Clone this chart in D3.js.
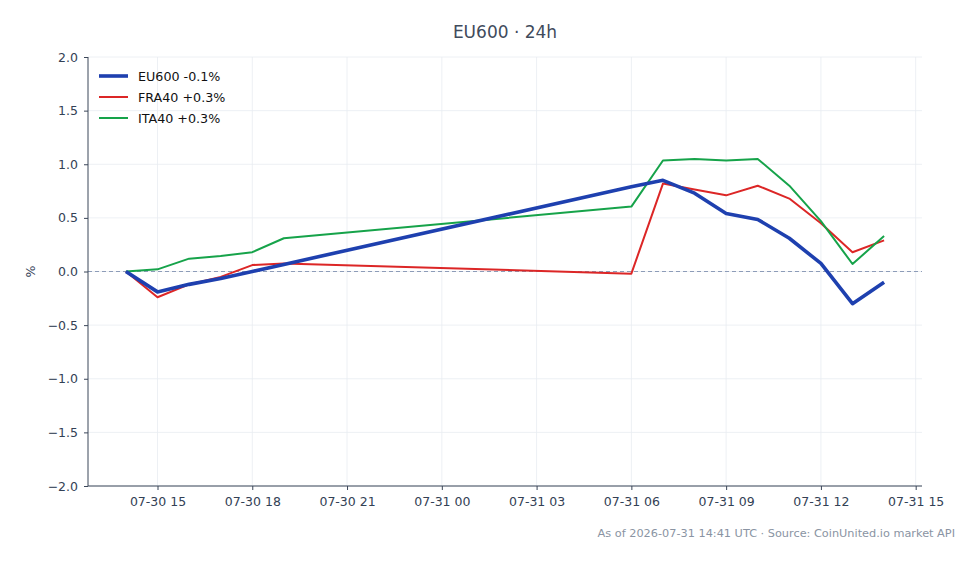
<!DOCTYPE html>
<html>
<head>
<meta charset="utf-8">
<script src="https://cdn.jsdelivr.net/npm/d3@7"></script>
<style>
  body { margin: 0; background: #fff; }
  svg { font-family: "DejaVu Sans", sans-serif; }
</style>
</head>
<body>
<svg width="979" height="564"></svg>
<script>
const times = [
  "2026-07-30T14:00Z", "2026-07-30T15:00Z", "2026-07-30T16:00Z", "2026-07-30T17:00Z",
  "2026-07-30T18:00Z", "2026-07-30T19:00Z", "2026-07-31T06:00Z", "2026-07-31T07:00Z",
  "2026-07-31T08:00Z", "2026-07-31T09:00Z", "2026-07-31T10:00Z", "2026-07-31T11:00Z",
  "2026-07-31T12:00Z", "2026-07-31T13:00Z", "2026-07-31T14:00Z",
];
const eu600 = [0.0, -0.19, -0.12, -0.065, 0.0, 0.066, 0.79, 0.85, 0.73, 0.54, 0.485, 0.31, 0.075, -0.30, -0.10];
const fra40 = [0.0, -0.24, -0.12, -0.05, 0.06, 0.075, -0.02, 0.82, 0.765, 0.71, 0.80, 0.68, 0.45, 0.18, 0.29];
const ita40 = [0.0, 0.02, 0.12, 0.145, 0.18, 0.31, 0.605, 1.035, 1.05, 1.035, 1.05, 0.80, 0.47, 0.07, 0.33];
const seriesNames = ["EU600 -0.1%", "FRA40 +0.3%", "ITA40 +0.3%"];
const yTicks = [-2.0, -1.5, -1.0, -0.5, 0.0, 0.5, 1.0, 1.5, 2.0];

const svg = d3.select("svg");
const margin = { top: 57, right: 57, bottom: 78, left: 88 };
const width = +svg.attr("width");
const height = +svg.attr("height");
const innerWidth = width - margin.left - margin.right;
const innerHeight = height - margin.top - margin.bottom;

const dates = times.map((t) => new Date(t));
const span = dates[dates.length - 1] - dates[0];
const pad = span * 0.05;

const xScale = d3
  .scaleUtc()
  .domain([new Date(+dates[0] - pad), new Date(+dates[dates.length - 1] + pad)])
  .range([0, innerWidth]);
const yScale = d3.scaleLinear().domain([-2, 2]).range([innerHeight, 0]);

const series = [
  { name: seriesNames[0], values: eu600, color: "#1e40af", width: 3.6 },
  { name: seriesNames[1], values: fra40, color: "#dc2626", width: 2 },
  { name: seriesNames[2], values: ita40, color: "#16a34a", width: 2 },
];

const g = svg
  .append("g")
  .attr("transform", `translate(${margin.left},${margin.top})`);

const xTicks = d3.utcHour.every(3).range(
  new Date("2026-07-30T15:00Z"),
  new Date("2026-07-31T15:01Z")
);

// grid
g.append("g")
  .selectAll("line")
  .data(xTicks)
  .join("line")
  .attr("x1", (d) => xScale(d))
  .attr("x2", (d) => xScale(d))
  .attr("y1", 0)
  .attr("y2", innerHeight)
  .attr("stroke", "#e8ecf1")
  .attr("stroke-width", 0.8);
g.append("g")
  .selectAll("line")
  .data(yTicks)
  .join("line")
  .attr("x1", 0)
  .attr("x2", innerWidth)
  .attr("y1", (d) => yScale(d))
  .attr("y2", (d) => yScale(d))
  .attr("stroke", "#e8ecf1")
  .attr("stroke-width", 0.8);

// zero line
g.append("line")
  .attr("x1", 0)
  .attr("x2", innerWidth)
  .attr("y1", yScale(0))
  .attr("y2", yScale(0))
  .attr("stroke", "#8d9cb8")
  .attr("stroke-width", 1)
  .attr("stroke-dasharray", "4,3");

const line = d3
  .line()
  .x((d, i) => xScale(dates[i]))
  .y((d) => yScale(d));

// blue drawn last so it sits on top
[series[1], series[2], series[0]].forEach((s) => {
  g.append("path")
    .attr("d", line(s.values))
    .attr("fill", "none")
    .attr("stroke", s.color)
    .attr("stroke-width", s.width)
    .attr("stroke-linejoin", "round");
});

// axes
const yAxis = d3
  .axisLeft(yScale)
  .tickValues(yTicks)
  .tickFormat(d3.format(".1f"))
  .tickSize(4)
  .tickPadding(6);
const xAxis = d3
  .axisBottom(xScale)
  .tickValues(xTicks)
  .tickFormat(d3.utcFormat("%m-%d %H"))
  .tickSize(4)
  .tickPadding(7);

const yG = g.append("g").call(yAxis);
const xG = g.append("g").attr("transform", `translate(0,${innerHeight})`).call(xAxis);
[yG, xG].forEach((ax) => {
  ax.select(".domain").attr("stroke", "#3b4658").attr("stroke-width", 1);
  ax.selectAll(".tick line").attr("stroke", "#3b4658");
  ax.selectAll(".tick text")
    .attr("fill", "#334155")
    .attr("font-size", 12.5)
    .attr("font-family", "DejaVu Sans, sans-serif");
});
yG.select(".domain").attr("d", `M0,0V${innerHeight}`);
xG.select(".domain").attr("d", `M0,0H${innerWidth}`);

// legend
const legend = g.append("g").attr("transform", "translate(11,19)");
series.forEach((s, i) => {
  const row = legend.append("g").attr("transform", `translate(0,${i * 21})`);
  row.append("line")
    .attr("x1", 0)
    .attr("x2", 29)
    .attr("stroke", s.color)
    .attr("stroke-width", s.width);
  row.append("text")
    .attr("x", 39)
    .attr("y", 4.5)
    .attr("font-size", 12.7)
    .attr("fill", "#111")
    .text(s.name);
});

// title, y label, footer
svg.append("text")
  .attr("x", margin.left + innerWidth / 2)
  .attr("y", 38)
  .attr("text-anchor", "middle")
  .attr("font-size", 17)
  .attr("fill", "#3f4b5c")
  .text("EU600 · 24h");

svg.append("text")
  .attr("transform", `translate(35,${margin.top + yScale(0)}) rotate(-90)`)
  .attr("text-anchor", "middle")
  .attr("font-size", 12.5)
  .attr("fill", "#334155")
  .text("%");

svg.append("text")
  .attr("x", 955)
  .attr("y", 537)
  .attr("text-anchor", "end")
  .attr("font-size", 11.3)
  .attr("fill", "#8a94a3")
  .text("As of 2026-07-31 14:41 UTC · Source: CoinUnited.io market API");
</script>
</body>
</html>
